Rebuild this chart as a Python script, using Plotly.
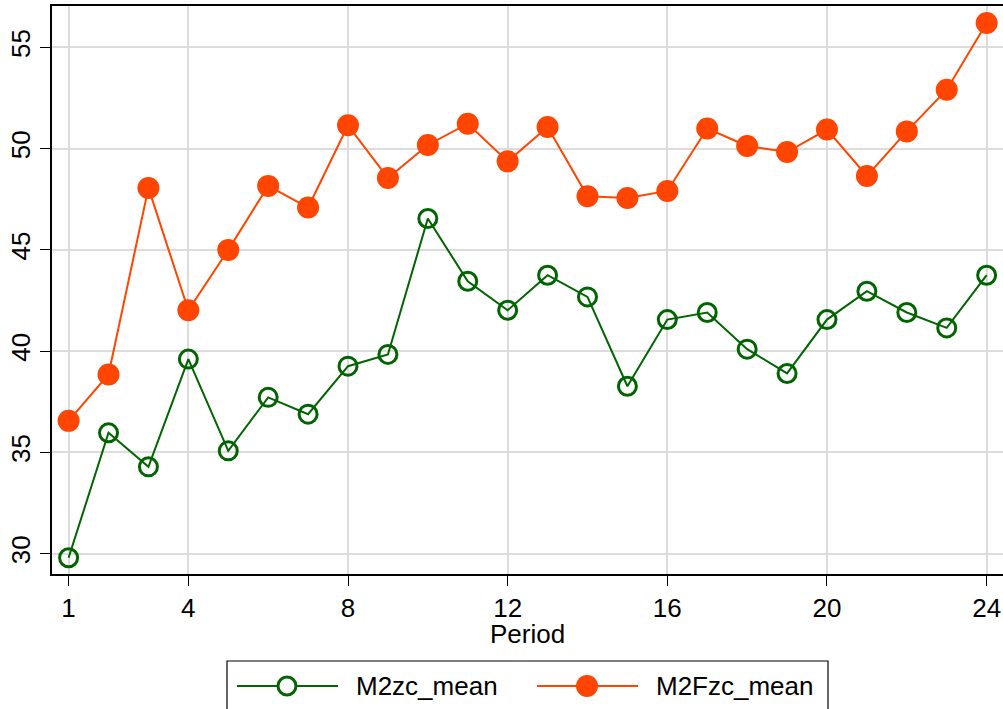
import plotly.graph_objects as go

period = list(range(1, 25))
m2zc_mean = [29.80, 35.97, 34.29, 39.61, 35.08, 37.72, 36.89, 39.26, 39.84, 46.55,
             43.45, 42.02, 43.75, 42.68, 38.27, 41.56, 41.91, 40.10, 38.90, 41.56,
             42.96, 41.91, 41.15, 43.75]
m2fzc_mean = [36.56, 38.85, 48.06, 42.02, 45.00, 48.16, 47.09, 51.15, 48.55, 50.18,
              51.23, 49.37, 51.07, 47.65, 47.56, 47.91, 50.99, 50.13, 49.83, 50.94,
              48.65, 50.85, 52.91, 56.20]
x_ticks = [1, 4, 8, 12, 16, 20, 24]
y_ticks = [30, 35, 40, 45, 50, 55]
series_names = ["M2zc_mean", "M2Fzc_mean"]
x_title = "Period"

GREEN = "#006400"
ORANGE = "#FF4500"
FONT = "Liberation Sans, Arial, sans-serif"
FS = 26

W, H = 1003, 709
L, R, T, B = 52, 0, 6, 135
PW = W - L - R
PH = H - T - B

def px_x(px):
    return (px - L) / PW

def px_y(py):
    return (H - B - py) / PH

fig = go.Figure()
fig.add_trace(go.Scatter(
    x=period, y=m2zc_mean, name=series_names[0], mode="lines+markers",
    line=dict(color=GREEN, width=2),
    marker=dict(symbol="circle-open", size=18, color=GREEN, line=dict(width=3, color=GREEN)),
    showlegend=False, cliponaxis=False))
fig.add_trace(go.Scatter(
    x=period, y=m2fzc_mean, name=series_names[1], mode="lines+markers",
    line=dict(color=ORANGE, width=2),
    marker=dict(symbol="circle", size=22, color=ORANGE),
    showlegend=False, cliponaxis=False))

# custom legend (Stata style)
shapes = []
annotations = []
shapes.append(dict(type="rect", xref="paper", yref="paper",
                   x0=px_x(227), x1=px_x(828), y0=px_y(730), y1=px_y(661),
                   line=dict(color="black", width=1.2), fillcolor="white", layer="above"))
legend_items = [
    (series_names[0], GREEN, 237, 338, 287, False, 354),
    (series_names[1], ORANGE, 537, 638, 587, True, 654),
]
ly = 686
for name, col, lx0, lx1, mx, filled, tx in legend_items:
    shapes.append(dict(type="line", xref="paper", yref="paper",
                       x0=px_x(lx0), x1=px_x(lx1), y0=px_y(ly), y1=px_y(ly),
                       line=dict(color=col, width=2), layer="above"))
    r = 11 if filled else 9
    shapes.append(dict(type="circle", xref="paper", yref="paper",
                       x0=px_x(mx - r), x1=px_x(mx + r), y0=px_y(ly + r), y1=px_y(ly - r),
                       line=dict(color=col, width=0 if filled else 3),
                       fillcolor=col if filled else "white", layer="above"))
    annotations.append(dict(text=name, xref="paper", yref="paper",
                            x=px_x(tx), y=px_y(ly), xanchor="left", yanchor="middle",
                            showarrow=False, font=dict(family=FONT, size=FS, color="black")))

# x-axis title
annotations.append(dict(text=x_title, xref="paper", yref="paper",
                        x=0.5, y=px_y(634), xanchor="center", yanchor="middle",
                        showarrow=False, font=dict(family=FONT, size=FS, color="black")))

fig.update_layout(
    width=W, height=H,
    margin=dict(l=L, r=R, t=T, b=B, pad=0, autoexpand=False),
    paper_bgcolor="white", plot_bgcolor="white",
    font=dict(family=FONT, size=FS, color="black"),
    showlegend=False,
    shapes=shapes, annotations=annotations,
    xaxis=dict(range=[0.584, 24.41], tickvals=x_ticks, ticks="outside", ticklen=10,
               tickwidth=1.2, tickcolor="black", showline=True, linecolor="black",
               linewidth=1.5, mirror=True, showgrid=True, gridcolor="#DCDCDC", gridwidth=2,
               zeroline=False, automargin=False,
               tickfont=dict(size=FS, family=FONT)),
    yaxis=dict(range=[29.0, 57.04], tickvals=y_ticks, ticks="outside", ticklen=10,
               tickwidth=1.2, tickcolor="black", showline=True, linecolor="black",
               linewidth=1.5, mirror=False, showgrid=True, gridcolor="#DCDCDC", gridwidth=2,
               zeroline=False, automargin=False, tickangle=-90,
               tickfont=dict(size=FS, family=FONT)),
)
fig.write_html("out.html", config={"displayModeBar": False},
               post_script="document.body.style.margin='0';document.body.style.overflow='hidden';")
